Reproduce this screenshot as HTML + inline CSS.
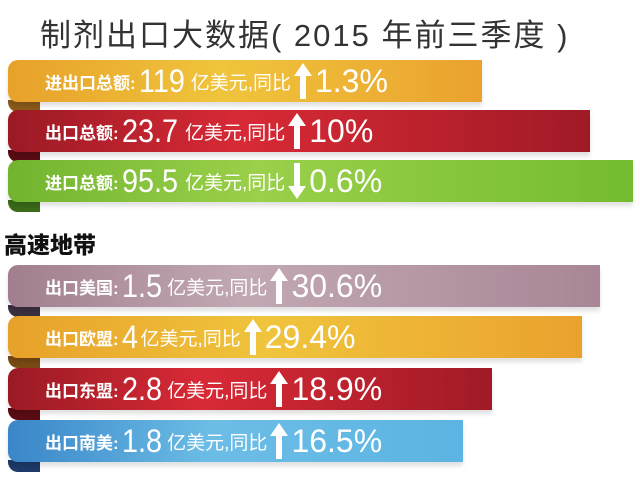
<!DOCTYPE html>
<html><head><meta charset="utf-8"><style>
body{margin:0;width:640px;height:488px;background:#fff;position:relative;overflow:hidden;font-family:"Liberation Sans","Noto Sans CJK SC",sans-serif}
.t{position:absolute;left:40px;top:10px;font-size:31px;color:#333;letter-spacing:2px}
.h{position:absolute;left:4px;top:226px;font-size:23px;font-weight:900;color:#111}
.bar{position:absolute;left:8px;height:42px;border-radius:10px 0 0 10px;color:#fff;white-space:nowrap;box-shadow:0 4px 4px rgba(0,0,0,0.12)}
.curl{position:absolute;left:8px;width:32px;height:12px;border-radius:0 0 0 10px}
.in{position:absolute;left:37px;top:0;height:42px;display:flex;align-items:center}
.l{font-size:17px;font-weight:bold;margin-right:3px}
.n{font-size:32px;margin:0 4px 0 0;transform:scaleX(0.9);transform-origin:left;display:inline-block}
.u{font-size:19px;margin-left:-3px}
.a{margin:0 3px 0 3px;display:inline-block;width:18px;height:36px}
.p{font-size:32px}
</style></head><body>
<svg width="0" height="0" style="position:absolute"><defs>
<symbol id="up" viewBox="0 0 18 36"><polygon points="9,0 18,13 12,13 12,36 6,36 6,13 0,13" fill="#fff"/></symbol>
<symbol id="dn" viewBox="0 0 18 36"><polygon points="9,36 18,23 12,23 12,0 6,0 6,23 0,23" fill="#fff"/></symbol>
</defs></svg>
<div class="t">制剂出口大数据( 2015 年前三季度 )</div>

<div class="curl" style="top:100px;background:#8a5a1a"></div>
<div class="bar" style="top:60px;width:474px;background:linear-gradient(90deg,#e7a12a,#f0c43c 45%,#eaa22e)"><div class="in"><span class="l">进出口总额:</span><span class="n">119</span><span class="u">亿美元,同比</span><svg class="a"><use href="#up"/></svg><span class="p">1.3%</span></div></div>

<div class="curl" style="top:150px;background:#5a0c14"></div>
<div class="bar" style="top:110px;width:582px;background:linear-gradient(90deg,#9a1a24,#d82a36 40%,#a01a26)"><div class="in"><span class="l">出口总额:</span><span class="n">23.7</span><span class="u">亿美元,同比</span><svg class="a"><use href="#up"/></svg><span class="p">10%</span></div></div>

<div class="curl" style="top:200px;background:#3a6a1a"></div>
<div class="bar" style="top:160px;width:625px;background:linear-gradient(90deg,#72b42e,#9ad04a 40%,#74bc30)"><div class="in"><span class="l">进口总额:</span><span class="n">95.5</span><span class="u">亿美元,同比</span><svg class="a"><use href="#dn"/></svg><span class="p">0.6%</span></div></div>

<div class="h">高速地带</div>

<div class="curl" style="top:305px;background:#3a3040"></div>
<div class="bar" style="top:265px;width:592px;background:linear-gradient(90deg,#a07e8e,#c2a8b4 40%,#a88696)"><div class="in"><span class="l">出口美国:</span><span class="n">1.5</span><span class="u">亿美元,同比</span><svg class="a"><use href="#up"/></svg><span class="p">30.6%</span></div></div>

<div class="curl" style="top:356px;background:#7a4a14"></div>
<div class="bar" style="top:316px;width:574px;background:linear-gradient(90deg,#e7a12a,#f0c43c 45%,#eaa22e)"><div class="in"><span class="l">出口欧盟:</span><span class="n">4</span><span class="u">亿美元,同比</span><svg class="a"><use href="#up"/></svg><span class="p">29.4%</span></div></div>

<div class="curl" style="top:408px;background:#5a0c14"></div>
<div class="bar" style="top:368px;width:484px;background:linear-gradient(90deg,#9a1a24,#d82a36 40%,#a01a26)"><div class="in"><span class="l">出口东盟:</span><span class="n">2.8</span><span class="u">亿美元,同比</span><svg class="a"><use href="#up"/></svg><span class="p">18.9%</span></div></div>

<div class="curl" style="top:460px;background:#1e3a6a"></div>
<div class="bar" style="top:420px;width:455px;background:linear-gradient(90deg,#3a86c8,#6cbde6 45%,#5cb4e2)"><div class="in"><span class="l">出口南美:</span><span class="n">1.8</span><span class="u">亿美元,同比</span><svg class="a"><use href="#up"/></svg><span class="p">16.5%</span></div></div>
</body></html>
